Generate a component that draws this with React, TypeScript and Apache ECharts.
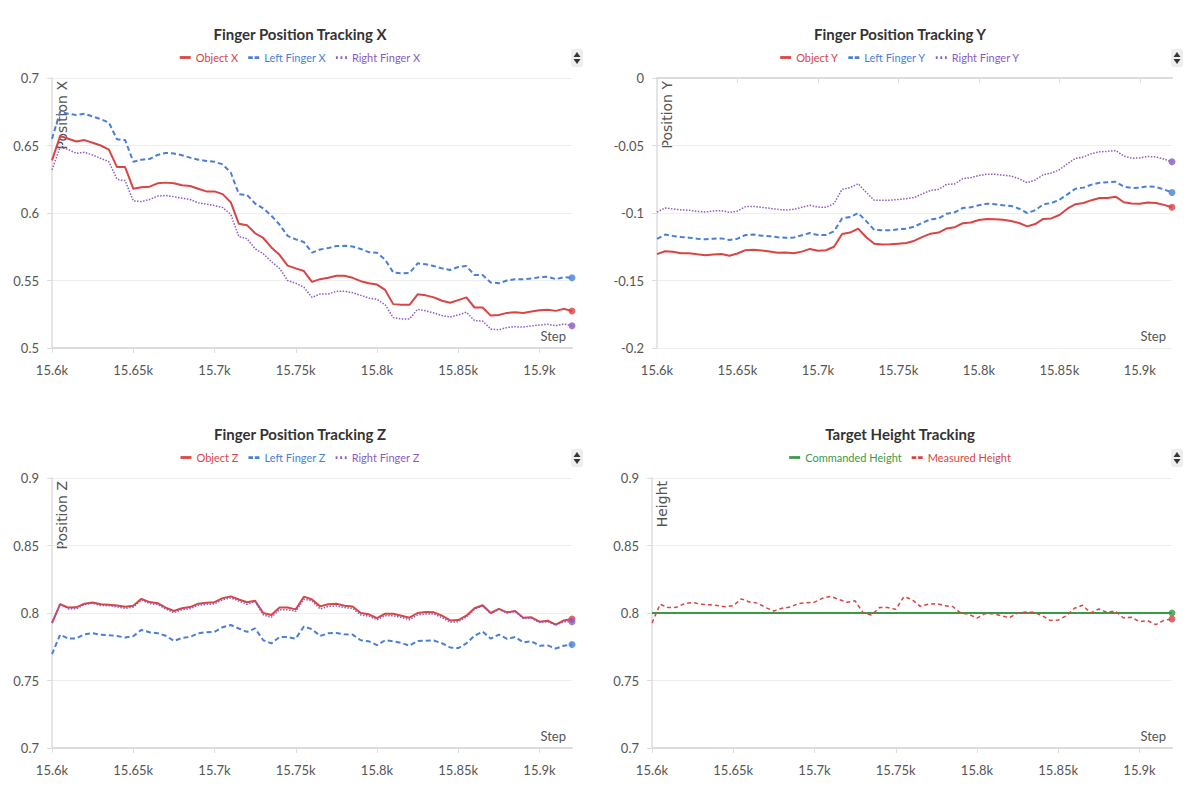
import React, { useEffect, useRef } from "react";
import * as echarts from "echarts";

const steps = [
  15600, 15605, 15610, 15615, 15620, 15625, 15630, 15635, 15640, 15645,
  15650, 15655, 15660, 15665, 15670, 15675, 15680, 15685, 15690, 15695,
  15700, 15705, 15710, 15715, 15720, 15725, 15730, 15735, 15740, 15745,
  15750, 15755, 15760, 15765, 15770, 15775, 15780, 15785, 15790, 15795,
  15800, 15805, 15810, 15815, 15820, 15825, 15830, 15835, 15840, 15845,
  15850, 15855, 15860, 15865, 15870, 15875, 15880, 15885, 15890, 15895,
  15900, 15905, 15910, 15915, 15920,
];

const objectX = [
  0.639, 0.657, 0.655, 0.653, 0.654, 0.652, 0.65, 0.647, 0.634, 0.634,
  0.618, 0.619, 0.6195, 0.622, 0.6225, 0.622, 0.6205, 0.62, 0.618, 0.616,
  0.616, 0.614, 0.608, 0.592, 0.591, 0.585, 0.5815, 0.5745, 0.569, 0.561,
  0.559, 0.557, 0.549, 0.551, 0.552, 0.5535, 0.5535, 0.552, 0.5495, 0.548,
  0.547, 0.543, 0.5325, 0.532, 0.532, 0.5398, 0.539, 0.5375, 0.535, 0.5335,
  0.5355, 0.5375, 0.53, 0.53, 0.524, 0.5245, 0.526, 0.5265, 0.526, 0.527,
  0.528, 0.5284, 0.5275, 0.529, 0.5274,
];
const leftFingerX = [
  0.655, 0.675, 0.6735, 0.6726, 0.6735, 0.6715, 0.6695, 0.667, 0.6546, 0.654,
  0.638, 0.6395, 0.64, 0.643, 0.6445, 0.644, 0.6428, 0.641, 0.6395, 0.6385,
  0.638, 0.636, 0.63, 0.614, 0.6134, 0.607, 0.6035, 0.598, 0.5915, 0.583,
  0.5805, 0.5785, 0.5706, 0.573, 0.574, 0.5755, 0.5757, 0.5752, 0.5733, 0.571,
  0.5706, 0.5655, 0.556, 0.5553, 0.5556, 0.5627, 0.562, 0.5607, 0.559, 0.5578,
  0.56, 0.5607, 0.554, 0.554, 0.5485, 0.548, 0.55, 0.551, 0.551, 0.5514,
  0.5524, 0.5528, 0.551, 0.5525, 0.552,
];
const rightFingerX = [
  0.632, 0.6487, 0.647, 0.6442, 0.645, 0.643, 0.6405, 0.638, 0.625, 0.624,
  0.609, 0.6085, 0.61, 0.6125, 0.613, 0.6121, 0.611, 0.61, 0.6075, 0.6065,
  0.6055, 0.604, 0.599, 0.5825, 0.581, 0.5735, 0.5698, 0.564, 0.559, 0.55,
  0.548, 0.545, 0.5375, 0.54, 0.54, 0.542, 0.542, 0.541, 0.539, 0.537,
  0.536, 0.532, 0.5225, 0.5215, 0.5215, 0.5287, 0.5275, 0.526, 0.524, 0.523,
  0.5245, 0.5265, 0.5203, 0.52, 0.514, 0.5135, 0.5152, 0.5157, 0.5155, 0.5164,
  0.517, 0.5176, 0.5165, 0.5178, 0.5165,
];

const objectY = [
  -0.1305, -0.1283, -0.1287, -0.1298, -0.1298, -0.1306, -0.1313, -0.1308, -0.1304, -0.1316,
  -0.13, -0.1275, -0.1273, -0.1278, -0.1285, -0.1295, -0.1292, -0.1298, -0.1286, -0.1266,
  -0.128, -0.1276, -0.125, -0.1155, -0.1145, -0.1116, -0.118, -0.1228, -0.1234, -0.1232,
  -0.1227, -0.1222, -0.1205, -0.1177, -0.1153, -0.1145, -0.1114, -0.1105, -0.1076, -0.107,
  -0.1052, -0.1044, -0.1046, -0.105, -0.1059, -0.1074, -0.1099, -0.1082, -0.1044, -0.104,
  -0.1015, -0.0968, -0.0935, -0.0926, -0.0905, -0.0889, -0.0889, -0.0879, -0.092, -0.093,
  -0.0932, -0.0922, -0.0926, -0.094, -0.0958,
];
const leftFingerY = [
  -0.1192, -0.116, -0.117, -0.1177, -0.1183, -0.119, -0.1195, -0.119, -0.1188, -0.12,
  -0.119, -0.1163, -0.116, -0.1168, -0.1172, -0.118, -0.1184, -0.1182, -0.1165, -0.1148,
  -0.1163, -0.1163, -0.1135, -0.104, -0.103, -0.1, -0.106, -0.1125, -0.1128, -0.1128,
  -0.112, -0.1116, -0.11, -0.1071, -0.1047, -0.104, -0.1005, -0.0995, -0.0963, -0.0958,
  -0.0943, -0.0931, -0.0935, -0.0943, -0.0948, -0.0968, -0.1, -0.098, -0.0936, -0.0926,
  -0.0903, -0.0862, -0.082, -0.0812, -0.079, -0.0776, -0.0772, -0.0768, -0.0805, -0.0815,
  -0.0812, -0.0803, -0.0807, -0.0825, -0.0848,
];
const rightFingerY = [
  -0.0993, -0.0963, -0.097, -0.0977, -0.098, -0.0988, -0.0993, -0.0985, -0.0982, -0.0995,
  -0.0985, -0.0953, -0.0951, -0.0958, -0.0965, -0.0973, -0.0978, -0.0973, -0.0958, -0.0943,
  -0.0956, -0.0958, -0.093, -0.0825, -0.0812, -0.0783, -0.0848, -0.0906, -0.0906, -0.0905,
  -0.09, -0.0894, -0.0885, -0.0857, -0.0833, -0.0825, -0.0788, -0.0785, -0.0746, -0.0738,
  -0.0722, -0.0712, -0.0713, -0.072, -0.0726, -0.0746, -0.0776, -0.0755, -0.0717, -0.0704,
  -0.068, -0.0635, -0.0595, -0.0585, -0.056, -0.0547, -0.0543, -0.0537, -0.0578, -0.0594,
  -0.0592, -0.0581, -0.0585, -0.06, -0.0621,
];

const objectZ = [
  0.7926, 0.8065, 0.804, 0.8042, 0.8069, 0.8078, 0.8065, 0.8061, 0.8055, 0.8046,
  0.8054, 0.8105, 0.8081, 0.8073, 0.804, 0.8015, 0.8035, 0.8044, 0.8069, 0.8076,
  0.808, 0.811, 0.8123, 0.81, 0.808, 0.809, 0.8, 0.7985, 0.804, 0.804,
  0.8027, 0.8121, 0.81, 0.8049, 0.8065, 0.8069, 0.8054, 0.8048, 0.8, 0.799,
  0.7962, 0.7995, 0.7994, 0.798, 0.7965, 0.8, 0.8007, 0.8005, 0.798, 0.7945,
  0.7948, 0.798, 0.8035, 0.8057, 0.8, 0.803, 0.8005, 0.8015, 0.7965, 0.7968,
  0.7936, 0.7943, 0.7914, 0.7945, 0.7956,
];
const leftFingerZ = [
  0.7695, 0.784, 0.781, 0.7812, 0.7842, 0.785, 0.7838, 0.7836, 0.783, 0.7818,
  0.7828, 0.7875, 0.7857, 0.785, 0.7832, 0.7793, 0.7815, 0.7823, 0.785, 0.7858,
  0.786, 0.7895, 0.7911, 0.7885, 0.786, 0.7886, 0.7798, 0.7775, 0.7822, 0.7822,
  0.781, 0.79, 0.788, 0.783, 0.785, 0.7852, 0.7842, 0.784, 0.7798, 0.779,
  0.7762, 0.7798, 0.779, 0.7778, 0.7758, 0.7793, 0.7795, 0.7796, 0.7776, 0.7745,
  0.774, 0.7775, 0.7832, 0.7862, 0.781, 0.784, 0.7808, 0.7822, 0.7782, 0.779,
  0.7758, 0.776, 0.7737, 0.7757, 0.7766,
];
const rightFingerZ = [
  0.7926, 0.8068, 0.803, 0.8032, 0.8062, 0.8072, 0.8056, 0.8054, 0.8046, 0.8034,
  0.8044, 0.8095, 0.807, 0.8062, 0.803, 0.8002, 0.8024, 0.8032, 0.8058, 0.8064,
  0.8068, 0.8098, 0.8112, 0.8088, 0.8065, 0.8084, 0.7986, 0.7968, 0.8024, 0.8025,
  0.8012, 0.8102, 0.809, 0.803, 0.8048, 0.8052, 0.804, 0.8034, 0.7985, 0.7977,
  0.795, 0.798, 0.798, 0.7966, 0.795, 0.7985, 0.7993, 0.7992, 0.7966, 0.7932,
  0.7935, 0.797, 0.8028, 0.8052, 0.7996, 0.8027, 0.8, 0.801, 0.796, 0.7962,
  0.793, 0.7936, 0.791, 0.7935, 0.7936,
];

const commandedSteps = [15600, 15920];
const commandedHeight = [0.8, 0.8];
const measuredHeight = objectZ;

const FONT = "Lato, 'Open Sans', sans-serif";
const RED = "#d94444";
const BLUE = "#4a7fd6";
const PURPLE = "#8a5cc4";
const GREEN = "#3a9a48";

const ICON_SOLID = "path://M0,0L12,0L12,3L0,3Z";
const ICON_DASHED = "path://M0,0L5,0L5,3L0,3Z M7,0L12,0L12,3L7,3Z";
const ICON_DOTTED = "path://M0,0L2,0L2,3L0,3Z M5,0L7,0L7,3L5,3Z M10,0L12,0L12,3L10,3Z";

type S = { name: string; xs: number[]; ys: number[]; color: string; width: number; dash: any; icon: string };

function buildOption(cfg: {
  title: string;
  yName: string;
  yMin: number;
  yMax: number;
  gridLeft: number;
  series: S[];
}) {
  const series: any[] = [];
  cfg.series.forEach((s) => {
    series.push({
      name: s.name,
      type: "line",
      data: s.xs.map((x, i) => [x, s.ys[i]]),
      symbol: "none",
      lineStyle: { color: s.color, width: s.width, type: s.dash },
      itemStyle: { color: s.color },
      emphasis: { disabled: true },
      silent: true,
    });
  });
  cfg.series.forEach((s) => {
    const n = s.ys.length - 1;
    series.push({
      name: s.name + " end",
      type: "scatter",
      data: [[s.xs[n], s.ys[n]]],
      symbol: "circle",
      symbolSize: 7,
      itemStyle: { color: s.color },
      silent: true,
      z: 5,
    });
  });
  const gridTop = 78;
  const gridH = 270;
  const gridRight = 28;
  return {
    animation: false,
    backgroundColor: "#ffffff",
    title: {
      text: cfg.title,
      left: "center",
      top: 21,
      textStyle: { fontFamily: FONT, fontSize: 15, fontWeight: "bold", color: "#333" },
    },
    legend: {
      top: 47,
      left: "center",
      itemWidth: 11,
      itemHeight: 3,
      itemGap: 10,
      selectedMode: false,
      data: cfg.series.map((s) => ({ name: s.name, icon: s.icon, textStyle: { color: s.color } })),
      textStyle: { fontFamily: FONT, fontSize: 11 },
    },
    grid: { left: cfg.gridLeft, top: gridTop, right: gridRight, height: gridH },
    xAxis: {
      type: "value",
      min: 15600,
      max: 15920,
      interval: 50,
      axisLine: { show: true, lineStyle: { color: "#dcdcdc", width: 2 } },
      axisTick: { show: true, length: 5, lineStyle: { color: "#dcdcdc" } },
      splitLine: { show: false },
      axisLabel: {
        margin: 15,
        showMaxLabel: false,
        color: "#555",
        fontFamily: FONT,
        fontSize: 13,
        formatter: (v: number) => v / 1000 + "k",
      },
    },
    yAxis: {
      type: "value",
      min: cfg.yMin,
      max: cfg.yMax,
      interval: 0.05,
      axisLine: { show: true, lineStyle: { color: "#dcdcdc", width: 1.5 } },
      axisTick: { show: true, length: 5, lineStyle: { color: "#dcdcdc" } },
      splitLine: { show: true, lineStyle: { color: "#eeeeee", width: 1 } },
      axisLabel: { margin: 13, color: "#555", fontFamily: FONT, fontSize: 13 },
    },
    graphic: [
      {
        type: "text",
        x: cfg.gridLeft + 3,
        y: gridTop + 3,
        rotation: Math.PI / 2,
        style: {
          text: cfg.yName,
          fill: "#555",
          font: "14px 'DejaVu Sans', sans-serif",
          align: "right",
          verticalAlign: "top",
        },
        silent: true,
      },
      {
        type: "text",
        x: 600 - gridRight - 6,
        y: gridTop + gridH - 12,
        style: {
          text: "Step",
          fill: "#555",
          font: "13px " + FONT,
          align: "right",
          verticalAlign: "middle",
        },
        silent: true,
      },
      {
        type: "rect",
        shape: { x: 571, y: 49, width: 12, height: 18, r: 2 },
        style: { fill: "#eeeeee" },
        silent: true,
      },
      {
        type: "polygon",
        shape: { points: [[577, 52], [573.5, 57], [580.5, 57]] },
        style: { fill: "#333" },
        silent: true,
      },
      {
        type: "polygon",
        shape: { points: [[573.5, 59], [580.5, 59], [577, 64]] },
        style: { fill: "#333" },
        silent: true,
      },
    ],
    series,
  };
}

const optX = buildOption({
  title: "Finger Position Tracking X",
  yName: "Position X",
  yMin: 0.5,
  yMax: 0.7,
  gridLeft: 52,
  series: [
    { name: "Object X", xs: steps, ys: objectX, color: RED, width: 2, dash: "solid", icon: ICON_SOLID },
    { name: "Left Finger X", xs: steps, ys: leftFingerX, color: BLUE, width: 2, dash: [5, 3], icon: ICON_DASHED },
    { name: "Right Finger X", xs: steps, ys: rightFingerX, color: PURPLE, width: 1.5, dash: [1.5, 1.5], icon: ICON_DOTTED },
  ],
});
const optY = buildOption({
  title: "Finger Position Tracking Y",
  yName: "Position Y",
  yMin: -0.2,
  yMax: 0,
  gridLeft: 57,
  series: [
    { name: "Object Y", xs: steps, ys: objectY, color: RED, width: 2, dash: "solid", icon: ICON_SOLID },
    { name: "Left Finger Y", xs: steps, ys: leftFingerY, color: BLUE, width: 2, dash: [5, 3], icon: ICON_DASHED },
    { name: "Right Finger Y", xs: steps, ys: rightFingerY, color: PURPLE, width: 1.5, dash: [1.5, 1.5], icon: ICON_DOTTED },
  ],
});
const optZ = buildOption({
  title: "Finger Position Tracking Z",
  yName: "Position Z",
  yMin: 0.7,
  yMax: 0.9,
  gridLeft: 52,
  series: [
    { name: "Object Z", xs: steps, ys: objectZ, color: RED, width: 2, dash: "solid", icon: ICON_SOLID },
    { name: "Left Finger Z", xs: steps, ys: leftFingerZ, color: BLUE, width: 2, dash: [5, 3], icon: ICON_DASHED },
    { name: "Right Finger Z", xs: steps, ys: rightFingerZ, color: PURPLE, width: 1.5, dash: [1.5, 1.5], icon: ICON_DOTTED },
  ],
});
const optH = buildOption({
  title: "Target Height Tracking",
  yName: "Height",
  yMin: 0.7,
  yMax: 0.9,
  gridLeft: 52,
  series: [
    { name: "Commanded Height", xs: commandedSteps, ys: commandedHeight, color: GREEN, width: 2, dash: "solid", icon: ICON_SOLID },
    { name: "Measured Height", xs: steps, ys: measuredHeight, color: RED, width: 1.5, dash: [4, 3], icon: ICON_DASHED },
  ],
});

function Panel({ option, left, top }: { option: any; left: number; top: number }) {
  const ref = useRef<HTMLDivElement>(null);
  useEffect(() => {
    const chart = echarts.init(ref.current as HTMLDivElement, null, { renderer: "svg" });
    chart.setOption(option);
    return () => chart.dispose();
  }, [option]);
  return <div ref={ref} style={{ position: "absolute", left, top, width: 600, height: 400 }} />;
}

export default function App() {
  return (
    <div style={{ position: "fixed", left: 0, top: 0, width: 1200, height: 800, background: "#fff" }}>
      <Panel option={optX} left={0} top={0} />
      <Panel option={optY} left={600} top={0} />
      <Panel option={optZ} left={0} top={400} />
      <Panel option={optH} left={600} top={400} />
    </div>
  );
}
